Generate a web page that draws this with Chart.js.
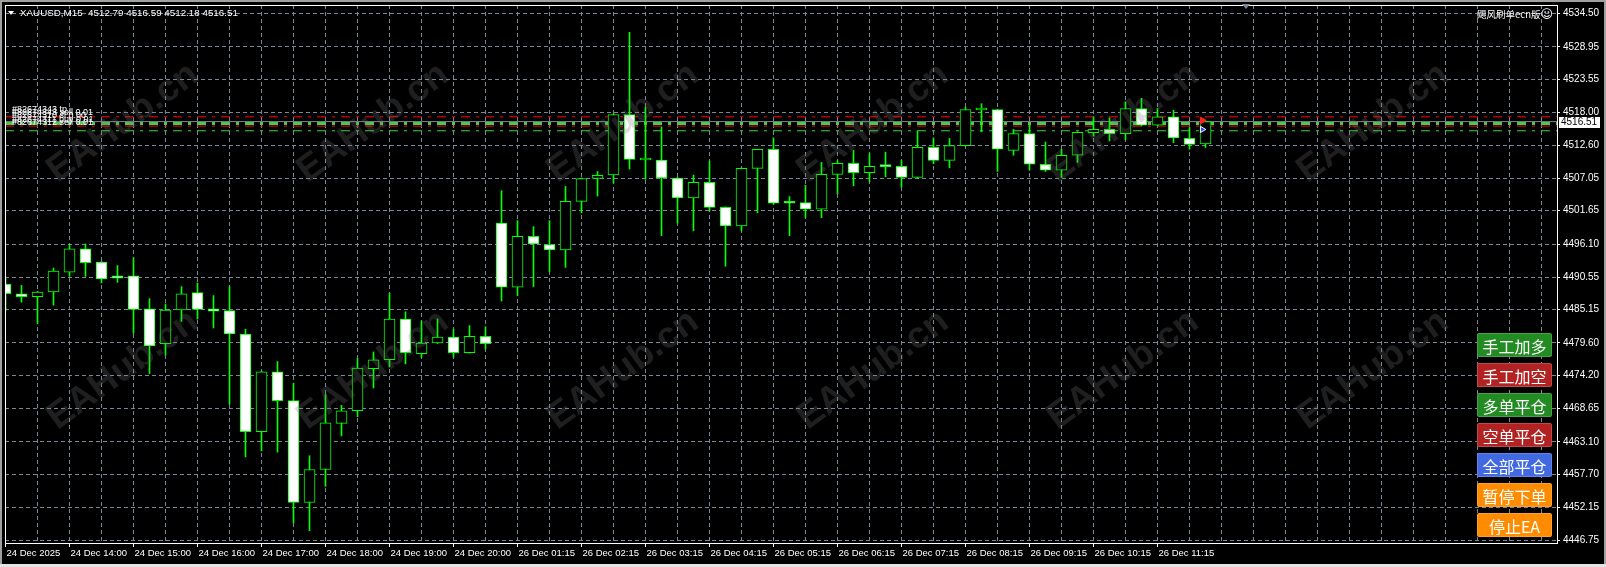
<!DOCTYPE html>
<html><head><meta charset="utf-8">
<script src="https://cdn.jsdelivr.net/npm/chart.js@4.4.0/dist/chart.umd.min.js"></script>
<style>
html,body{margin:0;padding:0;background:#000;width:1606px;height:567px;overflow:hidden;}
#wrap{position:relative;width:1606px;height:567px;background:#000;}
canvas{position:absolute;left:0;top:0;}
.strip{position:absolute;background:#a0a0a0;}
.btn{position:absolute;left:1477px;width:75px;height:24px;color:#fff;font:16px "Noto Sans CJK SC",sans-serif;line-height:24px;text-align:center;border-radius:2px;box-sizing:border-box;border:1px solid rgba(255,255,255,0.18);}
#hdr{position:absolute;left:20px;top:7px;color:#fff;font:9.8px "Liberation Sans",Arial,sans-serif;line-height:12px;white-space:pre;}
#tri{position:absolute;left:8px;top:11px;width:0;height:0;border-left:3.5px solid transparent;border-right:3.5px solid transparent;border-top:4px solid #fff;}
#shift{position:absolute;left:1242px;top:4px;width:0;height:0;border-left:4px solid transparent;border-right:4px solid transparent;border-top:5px solid #778899;}
#ea{position:absolute;right:53px;top:8px;color:#fff;font:9.5px "Noto Sans CJK SC","DejaVu Sans",sans-serif;line-height:12px;white-space:nowrap;}
</style></head>
<body><div id="wrap">
<canvas id="c" width="1606" height="567"></canvas>
<div class="strip" style="left:0;top:0;width:1606px;height:2px;"></div>
<div class="strip" style="left:0;top:0;width:2px;height:567px;"></div>
<div class="strip" style="left:1604px;top:0;width:2px;height:567px;"></div>
<div class="strip" style="left:0;top:564px;width:1606px;height:3px;background:#e4e4e4;"></div>
<div id="tri"></div>
<div id="hdr">XAUUSD,M15  4512.79 4516.59 4512.18 4516.51</div>
<div id="shift"></div>
<div id="ea">飓风刷单ecn版<span style="font-family:'DejaVu Sans';font-size:12px;">☺</span></div>
<div id="btns"></div>
</div>
<script>
// ---- data ----
const opens  = [4489.4,4487.8,4487.3,4488.1,4491.4,4495.3,4493.1,4490.8,4490.8,4485.3,4479.5,4485.1,4488.0,4485.3,4485.0,4481.1,4464.8,4474.8,4470.0,4453.0,4458.5,4466.2,4468.3,4475.3,4476.8,4483.6,4477.8,4479.6,4480.6,4478.0,4480.7,4499.6,4488.9,4497.4,4496.0,4495.1,4503.2,4507.05,4507.6,4517.7,4510.1,4510.1,4507.1,4503.8,4506.4,4502.2,4499.1,4508.7,4511.9,4503.0,4503.0,4501.9,4507.7,4509.55,4508.0,4509.1,4509.05,4507.2,4512.2,4510.05,4512.5,4518.45,4518.5,4511.7,4514.5,4509.4,4508.4,4510.9,4514.65,4515.2,4514.5,4518.7,4515.9,4517.3,4513.7,4512.79];
const highs  = [4490.6,4489.2,4488.2,4492.1,4496.0,4496.1,4493.2,4492.5,4493.8,4487.0,4486.1,4489.0,4489.6,4487.5,4489.0,4481.9,4474.9,4476.5,4472.9,4460.8,4471.0,4469.2,4477.0,4478.1,4487.9,4484.8,4483.2,4483.6,4481.9,4482.5,4482.3,4505.0,4500.0,4499.0,4500.0,4505.7,4507.1,4508.2,4517.8,4531.4,4518.9,4515.6,4507.2,4507.6,4509.9,4502.3,4508.8,4511.9,4513.8,4504.0,4505.9,4509.7,4510.0,4511.7,4511.2,4511.4,4510.05,4514.9,4513.8,4513.7,4518.9,4519.5,4518.6,4515.2,4516.0,4513.1,4511.9,4514.8,4517.3,4517.15,4519.8,4520.4,4518.7,4518.4,4515.5,4516.59];
const lows   = [4485.0,4486.4,4482.8,4485.9,4490.7,4490.7,4489.6,4489.7,4481.2,4474.5,4477.6,4483.2,4483.6,4482.1,4469.4,4460.6,4461.6,4461.4,4449.6,4448.3,4455.7,4464.1,4467.3,4472.1,4475.6,4476.1,4477.2,4479.5,4477.2,4477.9,4478.6,4486.6,4487.5,4489.0,4491.5,4492.2,4501.3,4504.1,4506.3,4508.6,4506.9,4497.5,4499.6,4498.3,4501.6,4492.4,4498.3,4501.3,4502.7,4497.5,4500.5,4500.5,4504.5,4505.8,4506.5,4507.3,4505.6,4507.1,4509.5,4508.8,4512.4,4514.8,4508.2,4510.9,4508.4,4508.2,4507.2,4509.7,4514.1,4513.3,4513.5,4515.8,4515.8,4513.0,4511.9,4512.18];
const closes = [4487.8,4487.3,4488.1,4491.6,4495.3,4493.0,4490.3,4490.4,4485.2,4479.1,4485.1,4487.8,4485.2,4484.9,4481.1,4464.8,4474.8,4470.0,4453.0,4458.5,4466.3,4468.3,4475.4,4476.8,4483.6,4478.0,4479.6,4480.6,4478.0,4480.7,4479.5,4488.9,4497.4,4496.1,4495.1,4503.2,4507.0,4507.55,4517.7,4510.2,4510.2,4507.1,4503.8,4506.4,4502.2,4499.1,4508.7,4511.9,4502.9,4502.9,4501.9,4507.7,4509.55,4508.0,4509.05,4509.0,4507.2,4512.2,4510.05,4512.5,4518.5,4518.55,4511.9,4514.5,4509.4,4508.4,4510.9,4514.7,4515.2,4514.5,4518.7,4515.9,4517.3,4513.8,4512.7,4516.51];
const xLabels = ['24 Dec 2025','24 Dec 14:00','24 Dec 15:00','24 Dec 16:00','24 Dec 17:00','24 Dec 18:00','24 Dec 19:00','24 Dec 20:00','26 Dec 01:15','26 Dec 02:15','26 Dec 03:15','26 Dec 04:15','26 Dec 05:15','26 Dec 06:15','26 Dec 07:15','26 Dec 08:15','26 Dec 09:15','26 Dec 10:15','26 Dec 11:15'];
const priceTicks = [4534.50,4528.95,4523.55,4518.00,4512.60,4507.05,4501.65,4496.10,4490.55,4485.15,4479.60,4474.20,4468.65,4463.10,4457.70,4452.15,4446.75];
const slPrices = [4517.31, 4515.76];
const tpPrices = [4516.19, 4514.98];
const bidPrice = 4516.51;
const arrowSell = [{x: 74.8, y: 4516.7}];
const arrowBuy = [{x: 74.8, y: 4515.2}];
const orderTexts = ['#82674343 tp','#82674343 sell 0.01','#82674310 sl:0.00','#82674311 buy 0.01','#82674312 sell 0.01'];
const buttons = [['手工加多','#228B22'],['手工加空','#B22222'],['多单平仓','#228B22'],['空单平仓','#B22222'],['全部平仓','#4169E1'],['暂停下单','#FF8C00'],['停止EA','#FF8C00']];
const watermark = 'EAHub.cn';

// ---- layout constants ----
const X_MIN = -1/32, X_MAX = 97 - 1/32;
const Y_MIN = 4446.25, Y_MAX = 4535.95;

const btnBox = document.getElementById('btns');
buttons.forEach((b, i) => {
  const d = document.createElement('div');
  d.className = 'btn'; d.textContent = b[0]; d.style.background = b[1];
  d.style.top = (333 + 30 * i) + 'px';
  btnBox.appendChild(d);
});

const idx = opens.map((_, i) => i);
const bodyData = idx.map(i => ({x: i, y: [Math.min(opens[i], closes[i]), Math.max(opens[i], closes[i])]}));
const wickData = idx.map(i => ({x: i, y: [lows[i], highs[i]]}));
const bodyFill = idx.map(i => closes[i] > opens[i] ? '#000000' : '#ffffff');

function hline(p, color, width, dash, order) {
  return {type: 'line', data: [{x: X_MIN, y: p}, {x: X_MAX, y: p}], borderColor: color, borderWidth: width,
    borderDash: dash, pointRadius: 0, order: order, fill: false};
}

const overlay = {
  id: 'overlay',
  afterDatasetsDraw(chart) {
    const {ctx, chartArea: a} = chart;
    ctx.save();
    ctx.beginPath(); ctx.rect(a.left, a.top, a.right - a.left, a.bottom - a.top); ctx.clip();
    ctx.font = 'bold 37px "Liberation Sans", Arial, sans-serif';
    ctx.fillStyle = 'rgba(120,120,120,0.26)';
    ctx.textAlign = 'center'; ctx.textBaseline = 'middle';
    [123, 370].forEach(cy => [123, 373, 623, 873, 1123, 1373].forEach(cx => {
      ctx.save(); ctx.translate(cx, cy); ctx.rotate(-36 * Math.PI / 180);
      ctx.fillText(watermark, 0, 0); ctx.restore();
    }));
    ctx.restore();
  },
  afterDraw(chart) {
    const {ctx, chartArea: a} = chart;
    ctx.save();
    ctx.strokeStyle = '#ffffff'; ctx.lineWidth = 1;
    ctx.strokeRect(a.left + 0.5, a.top + 0.5, a.right - a.left, a.bottom - a.top);
    // order labels
    ctx.font = '9px "Liberation Sans", Arial, sans-serif';
    ctx.fillStyle = '#ffffff'; ctx.textAlign = 'left'; ctx.textBaseline = 'alphabetic';
    orderTexts.forEach((t, i) => ctx.fillText(t, 12, 112 + i * 3.2));
    // bid price box
    const y = Math.round(chart.scales.y.getPixelForValue(bidPrice));
    ctx.fillStyle = '#ffffff';
    ctx.fillRect(a.right + 2, y - 5, 41, 11);
    ctx.fillStyle = '#000000';
    ctx.font = '10px "Liberation Sans", Arial, sans-serif';
    ctx.textBaseline = 'middle';
    ctx.fillText(bidPrice.toFixed(2), a.right + 4, y + 0.5);
    ctx.restore();
  }
};

new Chart(document.getElementById('c'), {
  type: 'bar',
  data: {
    datasets: [
      {label: 'body', data: bodyData, backgroundColor: bodyFill, borderColor: '#00ff00', borderWidth: 1,
        borderSkipped: false, grouped: false, barThickness: 11, maxBarThickness: 11, minBarLength: 2, order: 0},
      {label: 'wick', data: wickData, backgroundColor: '#00ff00', borderWidth: 0,
        grouped: false, barThickness: 1, maxBarThickness: 1, order: 1},
      hline(slPrices[0], '#ff0000', 1, [9, 6, 3, 6], 2),
      hline(bidPrice, '#778899', 1, [], 2),
      hline(tpPrices[0], '#4cc94c', 3, [9, 6, 3, 6], 2),
      hline(slPrices[1], '#ff0000', 1, [9, 6, 3, 6], 2),
      hline(tpPrices[1], '#33dd33', 1, [9, 6, 3, 6], 2),
      {type: 'line', data: arrowSell, showLine: false, pointStyle: 'triangle', rotation: 90, pointRadius: 4,
        pointBackgroundColor: '#ff2020', pointBorderColor: '#ff2020', order: -1},
      {type: 'line', data: arrowBuy, showLine: false, pointStyle: 'triangle', rotation: 90, pointRadius: 3.5,
        pointBackgroundColor: '#2040ff', pointBorderColor: '#ffffff', pointBorderWidth: 1, order: -1}
    ]
  },
  options: {
    responsive: false, animation: false, events: [],
    layout: {padding: {left: 5, top: 4, right: 0, bottom: 0}},
    plugins: {legend: {display: false}, tooltip: {enabled: false}},
    scales: {
      x: {
        type: 'linear', min: X_MIN, max: X_MAX, offset: false, bounds: 'data',
        afterBuildTicks: s => { const t = []; for (let v = 0; v <= 96; v += 2) t.push({value: v}); s.ticks = t; },
        afterFit: s => { s.height = 24; s.paddingLeft = 0; s.paddingRight = 0; },
        grid: {color: '#778899', lineWidth: 1, offset: false, tickLength: 4,
          tickColor: c => (c.tick && c.tick.value % 4 === 0 && c.tick.value / 4 < xLabels.length) ? '#ffffff' : 'rgba(0,0,0,0)'},
        border: {display: false, dash: [4, 3]},
        ticks: {color: '#ffffff', font: {family: '"Liberation Sans", Arial, sans-serif', size: 9.5}, align: 'start',
          maxRotation: 0, minRotation: 0, autoSkip: false, padding: 1, labelOffset: 1,
          callback: v => { const i = v / 4; return (Number.isInteger(i) && i < xLabels.length) ? xLabels[i] : ''; }}
      },
      y: {
        type: 'linear', position: 'right', min: Y_MIN, max: Y_MAX, beginAtZero: false, bounds: 'data',
        afterBuildTicks: s => { s.ticks = priceTicks.map(v => ({value: v})); },
        afterFit: s => { s.width = 49; s.paddingTop = 0; s.paddingBottom = 0; },
        grid: {color: '#778899', lineWidth: 1, tickLength: 3, tickColor: '#ffffff'},
        border: {display: false, dash: [4, 3]},
        ticks: {color: '#ffffff', font: {family: '"Liberation Sans", Arial, sans-serif', size: 10}, padding: 3,
          autoSkip: false, callback: v => Number(v).toFixed(2)}
      }
    }
  },
  plugins: [overlay]
});
</script>
</body></html>
